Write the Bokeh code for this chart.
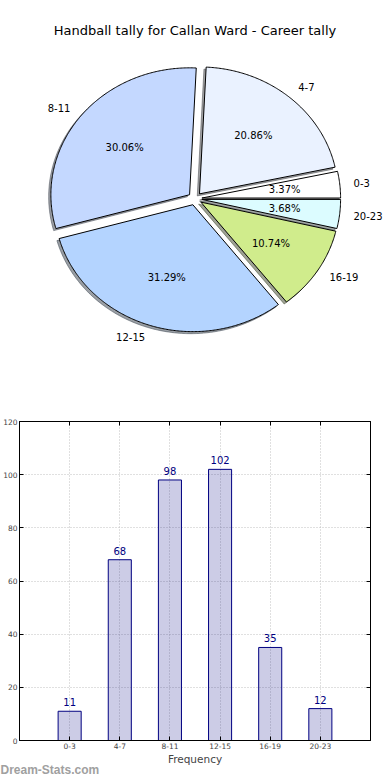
import numpy as np
from bokeh.plotting import figure
from bokeh.layouts import column
from bokeh.models import Range1d, Label, LinearAxis, FixedTicker, ColumnDataSource, Title
from bokeh.core.properties import value
from bokeh.embed import file_html
from bokeh.resources import INLINE

# ---------------- data ----------------
title_text = "Handball tally for Callan Ward - Career tally"
categories = ["0-3", "4-7", "8-11", "12-15", "16-19", "20-23"]
counts = [11, 68, 98, 102, 35, 12]
pie_colors = ["#ffffff", "#eaf2ff", "#c4d8ff", "#b4d4ff", "#d0ec8c", "#dcfcff"]
y_ticks = [0, 20, 40, 60, 80, 100, 120]
x_label = "Frequency"
watermark = "Dream-Stats.com"

FONT = "DejaVu Sans"
explode = 0.05
label_dist = 1.1
pct_dist = 0.6
shadow_off = 0.016

# ---------------- pie ----------------
total = float(sum(counts))
fracs = np.array(counts) / total
theta2 = np.cumsum(fracs) * 2 * np.pi
theta1 = np.concatenate([[0.0], theta2[:-1]])
thetam = 0.5 * (theta1 + theta2)


def shade(hexcol, rho=0.3):
    h = hexcol.lstrip("#")
    r, g, b = (int(h[i:i + 2], 16) for i in (0, 2, 4))
    return "#%02x%02x%02x" % (int(r * rho), int(g * rho), int(b * rho))


wx, wy, sx, sy = [], [], [], []
lx, ly, lalign, px, py, ptxt = [], [], [], [], [], []
for t1, t2, tm, f in zip(theta1, theta2, thetam, fracs):
    cx = explode * np.cos(tm)
    cy = explode * np.sin(tm)
    a = np.linspace(t1, t2, max(int((t2 - t1) / 0.01), 2) + 1)
    xx = np.concatenate([[cx], cx + np.cos(a)])
    yy = np.concatenate([[cy], cy + np.sin(a)])
    wx.append(list(xx)); wy.append(list(yy))
    sx.append(list(xx - shadow_off)); sy.append(list(yy - shadow_off))
    tx = cx + label_dist * np.cos(tm)
    ty = cy + label_dist * np.sin(tm)
    lx.append(tx); ly.append(ty)
    lalign.append("left" if tx > 0 else "right")
    px.append(cx + pct_dist * np.cos(tm)); py.append(cy + pct_dist * np.sin(tm))
    ptxt.append("%.2f%%" % (f * 100))

ML, MR, MT, MB = 19, 20, 23, 39  # bar-chart borders (the column aligns both plots' borders)
P_L, P_R, P_H = ML, 390, 398     # pie frame spans page x ML..390
pcx, pcy, prx, pry = 194.5, 198.2, 138.7, 126.9
pie = figure(frame_width=P_R - P_L, frame_height=P_H,
             x_range=Range1d((P_L - pcx) / prx, (P_R - pcx) / prx),
             y_range=Range1d((pcy - P_H) / pry, pcy / pry),
             output_backend="svg", toolbar_location=None,
             min_border_left=ML, min_border_right=MR, min_border_top=0, min_border_bottom=0,
             x_axis_location=None, y_axis_location=None)
pie.grid.visible = False
pie.outline_line_color = None

pie.patches(xs=sx, ys=sy, fill_color=[shade(c) for c in pie_colors],
            fill_alpha=0.5, line_color=[shade(c) for c in pie_colors], line_alpha=0.5)
pie.patches(xs=wx, ys=wy, fill_color=pie_colors, line_color="black", line_width=1)

lab_src = ColumnDataSource(dict(x=lx, y=ly, t=categories, a=lalign))
pie.text(x="x", y="y", text="t", text_align="a", source=lab_src,
         text_baseline="middle", text_font=value(FONT), text_font_size="10px",
         text_color="black")
pct_src = ColumnDataSource(dict(x=px, y=py, t=ptxt))
pie.text(x="x", y="y", text="t", source=pct_src, text_align="center",
         text_baseline="middle", text_font=value(FONT), text_font_size="10px",
         text_color="black")
pie.add_layout(Label(x=0, y=(pcy - 30) / pry, text=title_text, text_align="center",
                     text_baseline="middle", text_font=FONT,
                     text_font_size="13px", text_color="black"))

# ---------------- bars ----------------
positions = list(range(len(categories)))
bar = figure(frame_width=351, frame_height=319,
             x_range=Range1d(-1, len(categories)), y_range=Range1d(y_ticks[0], y_ticks[-1]),
             output_backend="svg", toolbar_location=None,
             min_border_left=ML, min_border_right=MR, min_border_top=MT, min_border_bottom=MB,
             x_axis_location=None, y_axis_location=None)
bar.outline_line_color = "black"
bar.outline_line_width = 1

bar.vbar(x=positions, top=counts, width=0.46, fill_color="#000080", fill_alpha=0.2,
         line_color="#000080", line_width=1)
bar.text(x=positions, y=counts, text=[str(c) for c in counts], text_align="center",
         text_baseline="alphabetic", y_offset=-9, text_font=value(FONT),
         text_font_size="10px", text_color="#000080")

xt = FixedTicker(ticks=positions)
yt = FixedTicker(ticks=y_ticks)


def style(ax, labels=True):
    ax.axis_line_color = "black"
    ax.major_tick_in = 4
    ax.major_tick_out = 0
    ax.minor_tick_line_color = None
    ax.major_tick_line_color = "black"
    ax.major_label_text_font = FONT
    if labels:
        ax.major_label_text_font_size = "7.5px"
        ax.major_label_standoff = 3
    else:
        ax.major_label_text_font_size = "1px"
        ax.major_label_text_color = None
        ax.major_label_standoff = 0


left = LinearAxis(ticker=yt)
style(left)
left.major_label_standoff = 2
bar.add_layout(left, "left")
right = LinearAxis(ticker=yt)
style(right, False)
bar.add_layout(right, "right")
bottom = LinearAxis(ticker=xt, major_label_overrides={i: c for i, c in zip(positions, categories)})
style(bottom)
bottom.major_label_standoff = 2
bottom.axis_label = x_label
bottom.axis_label_text_font = FONT
bottom.axis_label_text_font_size = "10.5px"
bottom.axis_label_text_font_style = "normal"
bottom.axis_label_standoff = 1
bar.add_layout(bottom, "below")
top = LinearAxis(ticker=xt)
style(top, False)
bar.add_layout(top, "above")

bar.xgrid.ticker = xt
bar.ygrid.ticker = yt
for g in (bar.xgrid, bar.ygrid):
    g.grid_line_color = "#c0c0c0"
    g.grid_line_dash = "1 2"
    g.grid_line_width = 1

bar.add_layout(Title(text=watermark, align="left", offset=-ML, standoff=-14,
                     text_font="Liberation Sans", text_font_style="bold",
                     text_font_size="12px", text_color="#a0a0a0"), "below")

layout = column(pie, bar, spacing=0)
open("out.html", "w").write(file_html(layout, INLINE))
